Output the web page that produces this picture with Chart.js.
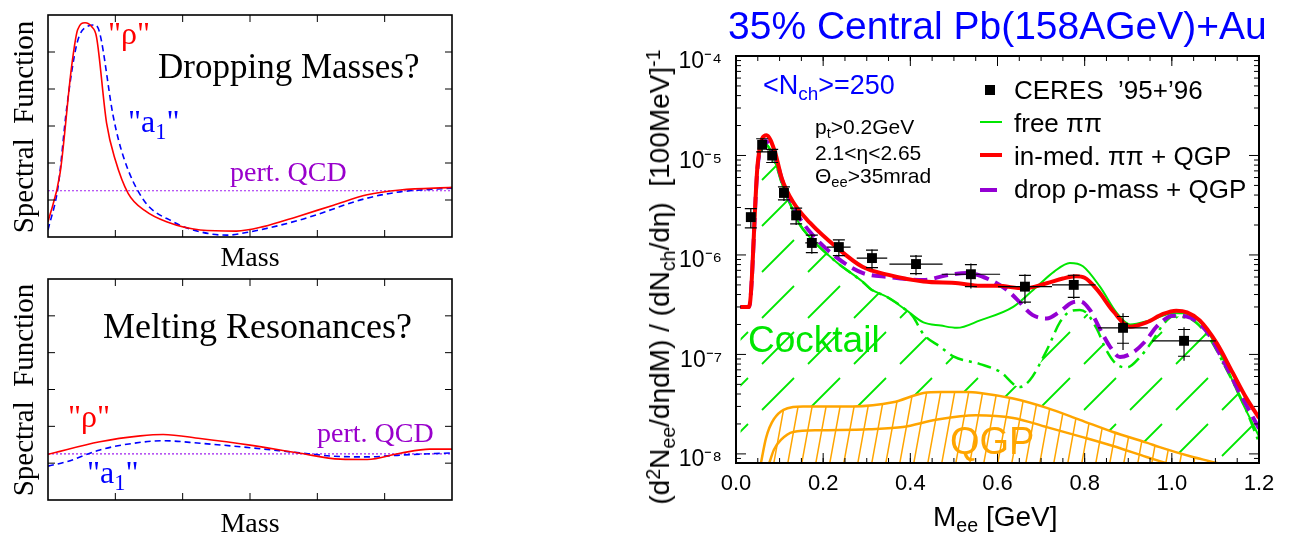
<!DOCTYPE html>
<html>
<head>
<meta charset="UTF-8">
<title>Spectral functions and CERES dilepton spectrum</title>
<script src="https://cdn.jsdelivr.net/npm/chart.js@4.4.0/dist/chart.umd.min.js"></script>
<style>
  body { margin: 0; background: #fff; }
  #page { position: relative; width: 1293px; height: 538px; overflow: hidden; }
  canvas { position: absolute; }
  .t { position: absolute; white-space: nowrap; line-height: 1; }
  .serif { font-family: "Liberation Serif", "Times New Roman", serif; }
  .sans { font-family: "Liberation Sans", Arial, sans-serif; }
  .t sub, .t sup { font-size: 0.7em; line-height: 0; position: relative; vertical-align: baseline; }
  .t sub { top: 0.3em; }
  .t sup { top: -0.45em; }
  .rot { transform: translate(-50%, -50%) rotate(-90deg); }
</style>
</head>
<body>
<div id="page">
  <canvas id="top" width="460" height="250" style="left:0;top:0"></canvas>
  <canvas id="bottom" width="460" height="240" style="left:0;top:270px"></canvas>
  <canvas id="ceres" width="673" height="538" style="left:620px;top:0"></canvas>

  <!-- left panels -->
  <div class="t serif" style="left:108px;top:17px;font-size:32px;color:#ff0000">"ρ"</div>
  <div class="t serif" style="left:158px;top:49px;font-size:35px">Dropping Masses?</div>
  <div class="t serif" style="left:128px;top:105px;font-size:32px;color:#0000ff">"a<sub>1</sub>"</div>
  <div class="t serif" style="left:230px;top:158px;font-size:28px;color:#9900cc">pert. QCD</div>
  <div class="t serif" style="left:250px;top:243px;font-size:28px;transform:translateX(-50%)">Mass</div>
  <div class="t serif rot" style="left:23px;top:127px;font-size:29px">Spectral&nbsp; Function</div>

  <div class="t serif" style="left:68px;top:400px;font-size:32px;color:#ff0000">"ρ"</div>
  <div class="t serif" style="left:103px;top:308px;font-size:36px">Melting Resonances?</div>
  <div class="t serif" style="left:87px;top:456px;font-size:32px;color:#0000ff">"a<sub>1</sub>"</div>
  <div class="t serif" style="left:317px;top:419px;font-size:28px;color:#9900cc">pert. QCD</div>
  <div class="t serif" style="left:250px;top:509px;font-size:28px;transform:translateX(-50%)">Mass</div>
  <div class="t serif rot" style="left:23px;top:390px;font-size:29px">Spectral&nbsp; Function</div>

  <!-- right panel -->
  <div class="t sans" style="left:728px;top:6px;font-size:39px;color:#0000ff">35% Central Pb(158AGeV)+Au</div>
  <div class="t sans" style="left:763px;top:72px;font-size:27px;color:#0000ff">&lt;N<sub>ch</sub>&gt;=250</div>
  <div class="t sans" style="left:815px;top:116px;font-size:21px">p<sub>t</sub>&gt;0.2GeV</div>
  <div class="t sans" style="left:815px;top:142px;font-size:21px">2.1&lt;η&lt;2.65</div>
  <div class="t sans" style="left:815px;top:165px;font-size:21px">Θ<sub>ee</sub>&gt;35mrad</div>
  <div class="t sans" style="left:748px;top:321px;font-size:37px;color:#00e600">Cocktail</div>
  <div class="t sans" style="left:950px;top:422px;font-size:38px;color:#ffa500">QGP</div>
  <div class="t sans" style="left:1014px;top:77px;font-size:26px">CERES&nbsp; ’95+’96</div>
  <div class="t sans" style="left:1014px;top:110px;font-size:26px">free ππ</div>
  <div class="t sans" style="left:1014px;top:143px;font-size:26px">in-med. ππ + QGP</div>
  <div class="t sans" style="left:1014px;top:176px;font-size:26px">drop ρ-mass + QGP</div>
  <div class="t sans" style="left:933px;top:503px;font-size:28px">M<sub>ee</sub> [GeV]</div>
  <div class="t sans rot" style="left:660px;top:277px;font-size:28px">(d<sup>2</sup>N<sub>ee</sub>/dηdM) / (dN<sub>ch</sub>/dη)&nbsp; [100MeV]<sup>-1</sup></div>
</div>

<script>
// left panels, arbitrary units (mass 0..6, spectral function 0..6)
const rhoTopX = [0, 0.18, 0.35, 0.44, 0.55, 0.65, 0.72, 0.87, 1.0, 1.19, 1.44, 1.76, 2.26, 2.8, 3.2, 3.7, 4.24, 4.74, 5.23, 6];
const rhoTopY = [0.41, 1.73, 4.6, 5.6, 5.79, 5.68, 5.41, 3.08, 2.08, 1.18, 0.71, 0.41, 0.19, 0.16, 0.28, 0.55, 0.86, 1.14, 1.27, 1.34];
const a1TopX = [0, 0.15, 0.28, 0.43, 0.57, 0.70, 0.77, 0.97, 1.12, 1.42, 1.86, 2.26, 2.65, 3.0, 3.74, 4.74, 5.23, 6];
const a1TopY = [0.19, 1.36, 3.52, 5.23, 5.68, 5.73, 5.5, 3.25, 2.17, 1.0, 0.41, 0.14, 0.05, 0.14, 0.46, 1.05, 1.22, 1.32];
const rhoBotX = [0, 0.77, 1.37, 1.71, 2.26, 3.0, 3.74, 4.34, 4.74, 5.23, 5.67, 6];
const rhoBotY = [1.24, 1.58, 1.74, 1.78, 1.67, 1.49, 1.27, 1.11, 1.1, 1.27, 1.38, 1.38];
const a1BotX = [0, 0.28, 0.77, 1.27, 1.71, 2.26, 3.0, 3.74, 4.24, 4.74, 5.23, 6];
const a1BotY = [0.92, 1.04, 1.36, 1.54, 1.61, 1.54, 1.42, 1.28, 1.19, 1.17, 1.22, 1.28];
const pertQCD = 1.25;
const boxTicks = [1, 2, 3, 4, 5];

// right panel: M_ee in GeV, yield per 100 MeV
const redM = [0.01, 0.03, 0.05, 0.07, 0.089, 0.105, 0.131, 0.17, 0.23, 0.29, 0.35, 0.43, 0.51, 0.56, 0.60, 0.66, 0.713, 0.75, 0.78, 0.80, 0.83, 0.866, 0.904, 0.942, 0.98, 1.01, 1.035, 1.064, 1.103, 1.14, 1.17, 1.2];
const redY = [3.0e-7, 3.0e-7, 8.5e-6, 1.6e-5, 1.1e-5, 5.9e-6, 3.4e-6, 2.1e-6, 1.2e-6, 7.6e-7, 6.3e-7, 5.4e-7, 5.2e-7, 4.9e-7, 4.9e-7, 4.6e-7, 5.2e-7, 5.8e-7, 6.1e-7, 5.9e-7, 4.4e-7, 2.7e-7, 1.9e-7, 2.1e-7, 2.55e-7, 2.75e-7, 2.65e-7, 2.2e-7, 1.3e-7, 6.5e-8, 3.7e-8, 2.3e-8];
const dropM = [0.01, 0.03, 0.05, 0.068, 0.09, 0.11, 0.14, 0.17, 0.23, 0.29, 0.35, 0.43, 0.48, 0.53, 0.58, 0.62, 0.644, 0.68, 0.713, 0.743, 0.77, 0.79, 0.812, 0.835, 0.858, 0.881, 0.911, 0.942, 0.965, 1.003, 1.034, 1.08, 1.117, 1.156, 1.2];
const dropY = [3.0e-7, 3.0e-7, 8.0e-6, 1.4e-5, 9.5e-6, 5.0e-6, 2.6e-6, 1.7e-6, 9.5e-7, 6.6e-7, 6.0e-7, 5.6e-7, 6.2e-7, 6.6e-7, 5.7e-7, 4.5e-7, 3.6e-7, 2.5e-7, 2.3e-7, 2.7e-7, 3.3e-7, 3.4e-7, 2.8e-7, 1.8e-7, 1.2e-7, 9.4e-8, 1.05e-7, 1.4e-7, 1.9e-7, 2.45e-7, 2.4e-7, 1.7e-7, 8.8e-8, 4.1e-8, 1.8e-8];
const freeM = [0.01, 0.03, 0.05, 0.068, 0.09, 0.11, 0.125, 0.147, 0.17, 0.23, 0.29, 0.31, 0.346, 0.39, 0.43, 0.47, 0.507, 0.56, 0.636, 0.69, 0.73, 0.766, 0.796, 0.835, 0.874, 0.904, 0.95, 1.003, 1.025, 1.07, 1.11, 1.156, 1.2];
const freeY = [3.0e-7, 3.0e-7, 7.5e-6, 1.3e-5, 8.5e-6, 4.5e-6, 3.2e-6, 2.0e-6, 1.5e-6, 8.5e-7, 5.4e-7, 4.5e-7, 3.8e-7, 2.8e-7, 2.1e-7, 1.95e-7, 1.85e-7, 2.2e-7, 3.0e-7, 4.8e-7, 6.8e-7, 8.3e-7, 7.7e-7, 4.8e-7, 2.6e-7, 2.0e-7, 2.2e-7, 2.6e-7, 2.6e-7, 2.0e-7, 1.05e-7, 3.7e-8, 1.5e-8];
const cocktailM = [0.01, 0.03, 0.05, 0.068, 0.09, 0.11, 0.125, 0.147, 0.17, 0.23, 0.29, 0.31, 0.346, 0.39, 0.406, 0.43, 0.468, 0.5, 0.56, 0.606, 0.651, 0.674, 0.713, 0.743, 0.766, 0.789, 0.805, 0.828, 0.85, 0.874, 0.897, 0.927, 0.957, 0.98, 1.003, 1.034, 1.08, 1.126, 1.17, 1.2];
const cocktailY = [3.0e-7, 3.0e-7, 7.5e-6, 1.3e-5, 8.5e-6, 4.5e-6, 3.2e-6, 2.0e-6, 1.5e-6, 8.5e-7, 5.4e-7, 4.5e-7, 3.8e-7, 2.8e-7, 2.4e-7, 1.6e-7, 1.2e-7, 9.5e-8, 8.0e-8, 6.7e-8, 4.7e-8, 5.5e-8, 1.1e-7, 2.1e-7, 2.7e-7, 2.8e-7, 2.6e-7, 1.8e-7, 1.1e-7, 7.9e-8, 7.4e-8, 9.4e-8, 1.4e-7, 2.0e-7, 2.4e-7, 2.35e-7, 1.6e-7, 7.0e-8, 2.8e-8, 1.3e-8];
const qgpHiM = [0.057, 0.069, 0.087, 0.131, 0.154, 0.268, 0.36, 0.43, 0.47, 0.53, 0.56, 0.636, 0.713, 0.789, 0.865, 0.942, 0.972, 1.048, 1.103, 1.11];
const qgpHiY = [8.0e-9, 1.45e-8, 2.24e-8, 2.96e-8, 3.0e-8, 3.0e-8, 3.3e-8, 4.1e-8, 4.2e-8, 4.2e-8, 4.1e-8, 3.6e-8, 2.9e-8, 2.2e-8, 1.66e-8, 1.3e-8, 1.17e-8, 9.3e-9, 8.1e-9, 7.9e-9];
const qgpLoM = [0.076, 0.087, 0.103, 0.131, 0.192, 0.305, 0.383, 0.459, 0.55, 0.636, 0.713, 0.789, 0.865, 0.942, 0.99];
const qgpLoY = [8.0e-9, 1.1e-8, 1.38e-8, 1.66e-8, 1.73e-8, 1.77e-8, 1.86e-8, 2.2e-8, 2.45e-8, 2.3e-8, 1.86e-8, 1.5e-8, 1.2e-8, 9.3e-9, 8.0e-9];

const ceresM = [0.034, 0.060, 0.083, 0.110, 0.138, 0.174, 0.236, 0.312, 0.413, 0.539, 0.663, 0.775, 0.888, 1.028];
const ceresY = [2.4e-6, 1.28e-5, 1.0e-5, 4.2e-6, 2.5e-6, 1.32e-6, 1.2e-6, 9.3e-7, 8.1e-7, 6.4e-7, 4.8e-7, 5.0e-7, 1.85e-7, 1.37e-7];
const ceresDM = [0.005, 0.005, 0.007, 0.008, 0.01, 0.015, 0.027, 0.035, 0.061, 0.067, 0.062, 0.05, 0.057, 0.073];
const ceresStat = [0.23, 0.15, 0.15, 0.17, 0.2, 0.22, 0.2, 0.23, 0.23, 0.28, 0.33, 0.28, 0.4, 0.37];
const ceresSys = [0.22, 0.15, 0.15, 0.15, 0.18, 0.2, 0.18, 0.2, 0.2, 0.25, 0.3, 0.25, 0.3, 0.3];

const xTickVals = [0, 0.2, 0.4, 0.6, 0.8, 1.0, 1.2];
const xTickLabels = ['0.0', '0.2', '0.4', '0.6', '0.8', '1.0', '1.2'];
const yTickVals = [1e-8, 1e-7, 1e-6, 1e-5, 1e-4];
const yTickLabels = ['10⁻⁸', '10⁻⁷', '10⁻⁶', '10⁻⁵', '10⁻⁴'];

const pts = (xs, ys) => xs.map((x, i) => ({ x: x, y: ys[i] }));

// minor ticks of the right frame
const xMinor = [];
for (let v = 0.05; v < 1.2; v += 0.05) xMinor.push(+v.toFixed(2));
const yMinor = [9e-9];
yTickVals.slice(0, 4).forEach(d => { for (let k = 2; k <= 9; k++) yMinor.push(d * k); });

// frame with inside ticks on all four sides
const frameTicks = {
  id: 'frameTicks',
  afterDatasetsDraw(chart, args, o) {
    const { ctx, chartArea: a, scales: { x, y } } = chart;
    ctx.save();
    ctx.strokeStyle = '#000';
    ctx.lineWidth = 1;
    const draw = (vals, len) => {
      ctx.beginPath();
      vals.forEach(v => {
        const px = x.getPixelForValue(v);
        ctx.moveTo(px, a.bottom); ctx.lineTo(px, a.bottom - len);
        ctx.moveTo(px, a.top); ctx.lineTo(px, a.top + len);
      });
      ctx.stroke();
    };
    const drawY = (vals, len) => {
      ctx.beginPath();
      vals.forEach(v => {
        const py = y.getPixelForValue(v);
        ctx.moveTo(a.left, py); ctx.lineTo(a.left + len, py);
        ctx.moveTo(a.right, py); ctx.lineTo(a.right - len, py);
      });
      ctx.stroke();
    };
    draw(o.xMajor, o.major);
    drawY(o.yMajor, o.major);
    if (o.xMinor) draw(o.xMinor, o.minor);
    if (o.yMinor) drawY(o.yMinor, o.minor);
    ctx.lineWidth = o.frame;
    ctx.strokeRect(a.left, a.top, a.right - a.left, a.bottom - a.top);
    ctx.restore();
  }
};

function spectralChart(id, pad, rhoX, rhoY, a1X, a1Y) {
  return new Chart(document.getElementById(id), {
    type: 'line',
    data: {
      datasets: [
        { data: pts(rhoX, rhoY), borderColor: '#ff0000', borderWidth: 1.6 },
        { data: pts(a1X, a1Y), borderColor: '#0000ff', borderWidth: 1.6, borderDash: [6, 4] },
        { data: [{ x: 0, y: pertQCD }, { x: 6, y: pertQCD }], borderColor: '#a020f0', borderWidth: 1.2, borderDash: [2, 2] }
      ]
    },
    options: {
      responsive: false,
      animation: false,
      layout: { padding: pad },
      elements: { point: { radius: 0 }, line: { cubicInterpolationMode: 'monotone', fill: false } },
      scales: {
        x: { type: 'linear', min: 0, max: 6, display: false },
        y: { type: 'linear', min: 0, max: 6, display: false }
      },
      plugins: {
        legend: { display: false },
        tooltip: { enabled: false },
        frameTicks: { xMajor: boxTicks, yMajor: boxTicks, major: 7, frame: 1.6 }
      }
    },
    plugins: [frameTicks]
  });
}

spectralChart('top', { left: 48, top: 15, right: 8, bottom: 13 }, rhoTopX, rhoTopY, a1TopX, a1TopY);
spectralChart('bottom', { left: 48, top: 9, right: 8, bottom: 10 }, rhoBotX, rhoBotY, a1BotX, a1BotY);

// hatch patterns
function hatch(w, h, color, lw, bg, lines) {
  const c = document.createElement('canvas');
  c.width = w; c.height = h;
  const g = c.getContext('2d');
  if (bg) { g.fillStyle = bg; g.fillRect(0, 0, w, h); }
  g.strokeStyle = color; g.lineWidth = lw;
  g.beginPath();
  lines.forEach(l => { g.moveTo(l[0], l[1]); g.lineTo(l[2], l[3]); });
  g.stroke();
  return g.createPattern(c, 'repeat');
}
const cocktailHatch = hatch(46, 46, '#00e600', 1.8, null, [[4, 42, 36, 10]]);
const qgpHatch = hatch(14, 77, '#ffa500', 1.5, '#ffffff',
  [-1, 0, 1].map(k => [k * 14 - 14, 154, k * 14 + 28, -77]));

const ceresBars = {
  id: 'ceresBars',
  beforeDatasetDraw(chart, args) {
    if (args.index !== 0) return;
    const { ctx, scales: { x, y } } = chart;
    ctx.save();
    ctx.strokeStyle = '#000';
    ctx.lineWidth = 1.2;
    ctx.beginPath();
    ceresM.forEach((m, i) => {
      const px = x.getPixelForValue(m), py = y.getPixelForValue(ceresY[i]);
      ctx.moveTo(x.getPixelForValue(m - ceresDM[i]), py);
      ctx.lineTo(x.getPixelForValue(m + ceresDM[i]), py);
      ctx.moveTo(px, y.getPixelForValue(ceresY[i] * (1 - ceresStat[i])));
      ctx.lineTo(px, y.getPixelForValue(ceresY[i] * (1 + ceresStat[i])));
      [1 - ceresSys[i], 1 + ceresSys[i]].forEach(f => {
        const sy = y.getPixelForValue(ceresY[i] * f);
        ctx.moveTo(px - 6, sy); ctx.lineTo(px + 6, sy);
      });
    });
    ctx.stroke();
    ctx.restore();
  }
};

const legendMarks = {
  id: 'legendMarks',
  afterDraw(chart) {
    const ctx = chart.ctx;
    ctx.save();
    ctx.fillStyle = '#000';
    ctx.fillRect(365, 85, 10, 10);
    [[122, '#00e600', 2, 382], [155, '#ff0000', 4, 382], [190, '#9400d3', 4, 377]].forEach(l => {
      ctx.strokeStyle = l[1]; ctx.lineWidth = l[2];
      ctx.beginPath(); ctx.moveTo(360, l[0]); ctx.lineTo(l[3], l[0]); ctx.stroke();
    });
    ctx.restore();
  }
};

new Chart(document.getElementById('ceres'), {
  type: 'line',
  data: {
    datasets: [
      { label: "CERES '95+'96", data: pts(ceresM, ceresY), showLine: false, pointStyle: 'rect', pointRadius: 7,
        pointBackgroundColor: '#000', pointBorderColor: '#000', pointBorderWidth: 0 },
      { label: 'in-med. ππ + QGP', data: pts(redM, redY), borderColor: '#ff0000', borderWidth: 4 },
      { label: 'drop ρ-mass + QGP', data: pts(dropM, dropY), borderColor: '#9400d3', borderWidth: 4, borderDash: [14, 7] },
      { label: 'free ππ', data: pts(freeM, freeY), borderColor: '#00e600', borderWidth: 2 },
      { label: 'QGP low', data: pts(qgpLoM, qgpLoY), borderColor: '#ffa500', borderWidth: 2.5 },
      { label: 'QGP', data: pts(qgpHiM, qgpHiY), borderColor: '#ffa500', borderWidth: 2.5, fill: 'start', backgroundColor: qgpHatch },
      { label: 'Cocktail', data: pts(cocktailM, cocktailY), borderColor: '#00e600', borderWidth: 2.5,
        borderDash: [14, 6, 3, 6], fill: 'start', backgroundColor: cocktailHatch }
    ]
  },
  options: {
    responsive: false,
    animation: false,
    layout: { padding: { left: 60, top: 56, right: 34, bottom: 35 } },
    elements: { point: { radius: 0 }, line: { cubicInterpolationMode: 'monotone', fill: false } },
    datasets: { line: { clip: 0 } },
    scales: {
      x: {
        type: 'linear', min: 0, max: 1.2,
        grid: { display: false }, border: { display: false },
        afterBuildTicks: s => { s.ticks = xTickVals.map(v => ({ value: v })); },
        afterFit: s => { s.height = 40; },
        ticks: { autoSkip: false, maxRotation: 0, padding: 0, color: '#000',
          font: { family: 'Liberation Sans', size: 22 },
          callback: (v, i) => xTickLabels[i] }
      },
      y: {
        type: 'logarithmic', min: 8.1e-9, max: 1e-4,
        grid: { display: false }, border: { display: false },
        afterBuildTicks: s => { s.ticks = yTickVals.map(v => ({ value: v })); },
        afterFit: s => { s.width = 56; },
        ticks: { autoSkip: false, padding: 6, labelOffset: 6, color: '#000',
          font: { family: 'Liberation Sans', size: 23 },
          callback: (v, i) => yTickLabels[i] }
      }
    },
    plugins: {
      legend: { display: false },
      tooltip: { enabled: false },
      frameTicks: { xMajor: xTickVals, yMajor: yTickVals, xMinor: xMinor, yMinor: yMinor, major: 10, minor: 5, frame: 2 }
    }
  },
  plugins: [ceresBars, frameTicks, legendMarks]
});
</script>
</body>
</html>
